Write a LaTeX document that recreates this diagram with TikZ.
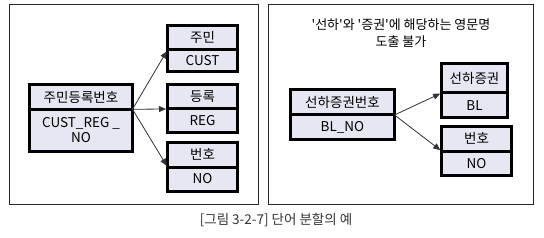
\documentclass[tikz,border=0pt]{standalone}
\usepackage{fontspec}
\newfontfamily\kofont{Noto Sans CJK KR}
\usepackage{xcolor}
\usepackage{tikz}
\usetikzlibrary{arrows.meta, positioning}
\definecolor{boxfill}{RGB}{231,231,243}

\begin{document}
\begin{tikzpicture}[x=1pt, y=-1pt, font=\kofont\fontsize{13.5}{15}\selectfont,
    wordhead/.style={draw, line width=3pt, fill=boxfill, outer sep=0pt, inner sep=0pt, minimum width=#1, minimum height=24.5pt},
    wordbody/.style={draw, line width=3pt, fill=boxfill, outer sep=0pt, inner sep=0pt, minimum width=#1, minimum height=24pt, align=center},
    split/.style={-{Triangle[length=7pt, width=6pt]}, line width=0.8pt, black!80, shorten >=1.5pt}]
    \useasboundingbox (0,0) rectangle (544,238);
    % panels
    \draw[line width=1pt, black!85] (9,5) rectangle (258,204);
    \draw[line width=1pt, black!85] (268,5) rectangle (533,204);

    % left: 주민등록번호
    \node[wordhead=103pt] (jmhead) at (81,97) {주민등록번호};
    \node[wordbody=103pt, minimum height=42pt, below=0pt of jmhead] (jmbody) {CUST\_REG \_\\NO};

    \node[wordhead=70pt] (juhead) at (202.5,37.75) {주민};
    \node[wordbody=70pt, minimum height=22pt, below=0pt of juhead] (jubody) {CUST};
    \node[wordhead=70pt] (dkhead) at (202.5,96.75) {등록};
    \node[wordbody=70pt, minimum height=23pt, below=0pt of dkhead] (dkbody) {REG};
    \node[wordhead=70pt] (bhhead) at (202.5,154.75) {번호};
    \node[wordbody=70pt, minimum height=24pt, below=0pt of bhhead] (bhbody) {NO};

    \draw[split] (jmhead.south east) -- (juhead.south west);
    \draw[split] (jmhead.south east) -- (dkhead.south west);
    \draw[split] (jmhead.south east) -- (bhhead.south west);

    % right: 선하증권번호
    \node[align=center, font=\kofont\fontsize{13}{17}\selectfont] (note) at (401,33) {'선하'와 '증권'에 해당하는 영문명\\도출 불가};

    \node[wordhead=104pt, minimum height=25.5pt] (blhead) at (342.5,102.25) {선하증권번호};
    \node[wordbody=104pt, minimum height=24.5pt, below=0pt of blhead] (blbody) {BL\_NO};

    \node[wordhead=66pt, minimum height=29.5pt] (shhead) at (474.5,78.25) {선하증권};
    \node[wordbody=66pt, minimum height=24.5pt, below=0pt of shhead] (shbody) {BL};
    \node[wordhead=70pt] (nohead) at (476.5,138.75) {번호};
    \node[wordbody=70pt, minimum height=24.5pt, below=0pt of nohead] (nobody) {NO};

    \draw[split] (blhead.south east) -- (shhead.south west);
    \draw[split] (blhead.south east) -- (nohead.south west);

    % caption
    \node[text=black!80, font=\kofont\fontsize{13.5}{15}\selectfont] (caption) at (276,220) {[그림 3-2-7] 단어 분할의 예};
\end{tikzpicture}
\end{document}
